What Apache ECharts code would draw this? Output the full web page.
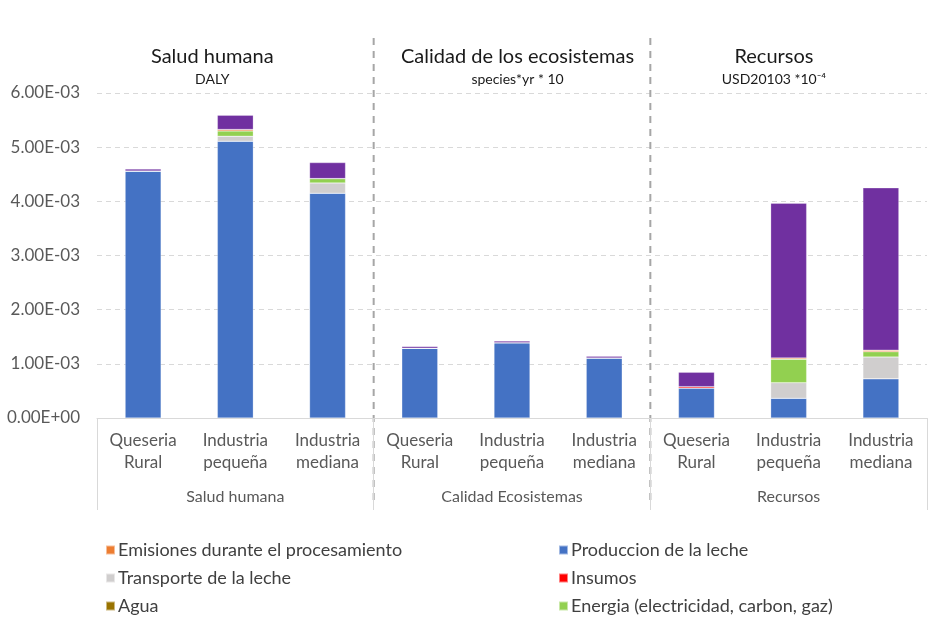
<!DOCTYPE html>
<html><head><meta charset="utf-8">
<script src="https://cdn.jsdelivr.net/npm/echarts@6/dist/echarts.min.js"></script>
<style>html,body{margin:0;padding:0;background:#fff}#c{width:946px;height:624px}</style>
</head><body><div id="c"></div>
<script>
const categories = ['Queseria\nRural','Industria\npequeña','Industria\nmediana','Queseria\nRural','Industria\npequeña','Industria\nmediana','Queseria\nRural','Industria\npequeña','Industria\nmediana'];
const groups = ['Salud humana','Calidad Ecosistemas','Recursos'];
const panelTitles = ['Salud humana','Calidad de los ecosistemas','Recursos'];
const panelUnits = ['DALY','species*yr * 10','USD20103 *10⁻⁴'];
const yTicks = [0, 0.001, 0.002, 0.003, 0.004, 0.005, 0.006];

const produccion = [4.56e-3, 5.11e-3, 4.15e-3, 1.29e-3, 1.39e-3, 1.11e-3, 0.548e-3, 0.364e-3, 0.725e-3];
const insumos    = [0, 0, 0, 0, 0, 0, 0.03e-3, 0, 0];
const transporte = [0, 0.092e-3, 0.19e-3, 0, 0, 0, 0, 0.288e-3, 0.40e-3];
const energia    = [0, 0.098e-3, 0.08e-3, 0, 0, 0, 0, 0.432e-3, 0.098e-3];
const emisiones  = [0, 0.026e-3, 0, 0, 0, 0, 0, 0.025e-3, 0.03e-3];
const agua       = [0, 0, 0, 0, 0, 0, 0, 0, 0];
const otros      = [0.035e-3, 0.263e-3, 0.295e-3, 0.03e-3, 0.03e-3, 0.03e-3, 0.266e-3, 2.856e-3, 2.996e-3];

const FONT = 'Lato';
const seriesDefs = [
  {name:'Produccion de la leche', data:produccion, color:'#4472C4'},
  {name:'Insumos', data:insumos, color:'#FF0000'},
  {name:'Transporte de la leche', data:transporte, color:'#D0CECE'},
  {name:'Energia (electricidad, carbon, gaz)', data:energia, color:'#92D050'},
  {name:'Emisiones durante el procesamiento', data:emisiones, color:'#ED7D31'},
  {name:'Agua', data:agua, color:'#997300'},
  {name:'Otros', data:otros, color:'#7030A0'}
];

function fmt(v){
  if (v === 0) return '0.00E+00';
  const [m, e] = v.toExponential(2).split('e');
  const n = parseInt(e, 10);
  return m + 'E' + (n < 0 ? '-' : '+') + String(Math.abs(n)).padStart(2, '0');
}

const chart = echarts.init(document.getElementById('c'));
const GL = 97, GR = 19, GT = 93, GB = 206;
const legendText = {fontFamily:FONT, fontSize:18, color:'#404040', padding:[0,0,0,-2]};
chart.setOption({
  animation:false,
  textStyle:{fontFamily:FONT},
  grid:{left:GL, right:GR, top:GT, bottom:GB},
  legend:[
    {data:['Emisiones durante el procesamiento','Transporte de la leche','Agua'], orient:'vertical', left:100, top:536, itemWidth:9, itemHeight:9, itemGap:10, icon:'rect', textStyle:legendText},
    {data:['Produccion de la leche','Insumos','Energia (electricidad, carbon, gaz)'], orient:'vertical', left:553, top:536, itemWidth:9, itemHeight:9, itemGap:10, icon:'rect', textStyle:legendText}
  ],
  xAxis:[
    {type:'category', data:categories, position:'bottom',
     axisLine:{show:true, lineStyle:{color:'#D9D9D9'}},
     axisTick:{show:false},
     axisLabel:{fontFamily:FONT, fontSize:17, color:'#595959', lineHeight:22, margin:12, interval:0}},
    {type:'category', data:groups, position:'bottom', gridIndex:0,
     axisLine:{show:false},
     axisTick:{show:true, length:92, lineStyle:{color:'#D9D9D9'}},
     axisLabel:{fontFamily:FONT, fontSize:16, color:'#595959', margin:71, interval:0}}
  ],
  yAxis:{type:'value', min:0, max:0.006, interval:0.001,
    axisLine:{show:false}, axisTick:{show:false},
    splitLine:{lineStyle:{color:'#D9D9D9', type:[5,4]}},
    axisLabel:{fontFamily:FONT, fontSize:17, color:'#595959', margin:17, formatter:fmt}},
  series: seriesDefs.map(s => ({
    name:s.name, type:'bar', stack:'total', data:s.data, barWidth:'39%',
    xAxisIndex:0,
    itemStyle:{color:s.color, borderColor:'rgba(255,255,255,0.5)', borderWidth:0.5}
  }))
});

// decorations: panel titles and dashed separators, positioned from the axis scale
const px = i => chart.convertToPixel({xAxisIndex:0}, i);
const band = px(1) - px(0);
const titleShift = [-0.25, 0.06, -0.16]; // in bands, relative to the panel centre
const graphics = [];
for (let g = 0; g < 3; g++) {
  const cx = px(g*3+1) + titleShift[g]*band;
  graphics.push({type:'text', x:cx, y:57, style:{text:panelTitles[g], font:'20px '+FONT, fill:'#1a1a1a', textAlign:'center', textVerticalAlign:'middle'}});
  graphics.push({type:'text', x:cx, y:79, style:{text:panelUnits[g], font:'14px '+FONT, fill:'#1a1a1a', textAlign:'center', textVerticalAlign:'middle'}});
}
for (let g = 1; g < 3; g++) {
  const x = px(g*3) - band/2;
  graphics.push({type:'line', shape:{x1:x, y1:38, x2:x, y2:505}, style:{stroke:'#A6A6A6', lineWidth:2, lineDash:[7,6]}});
}
chart.setOption({graphic:graphics});
</script></body></html>
